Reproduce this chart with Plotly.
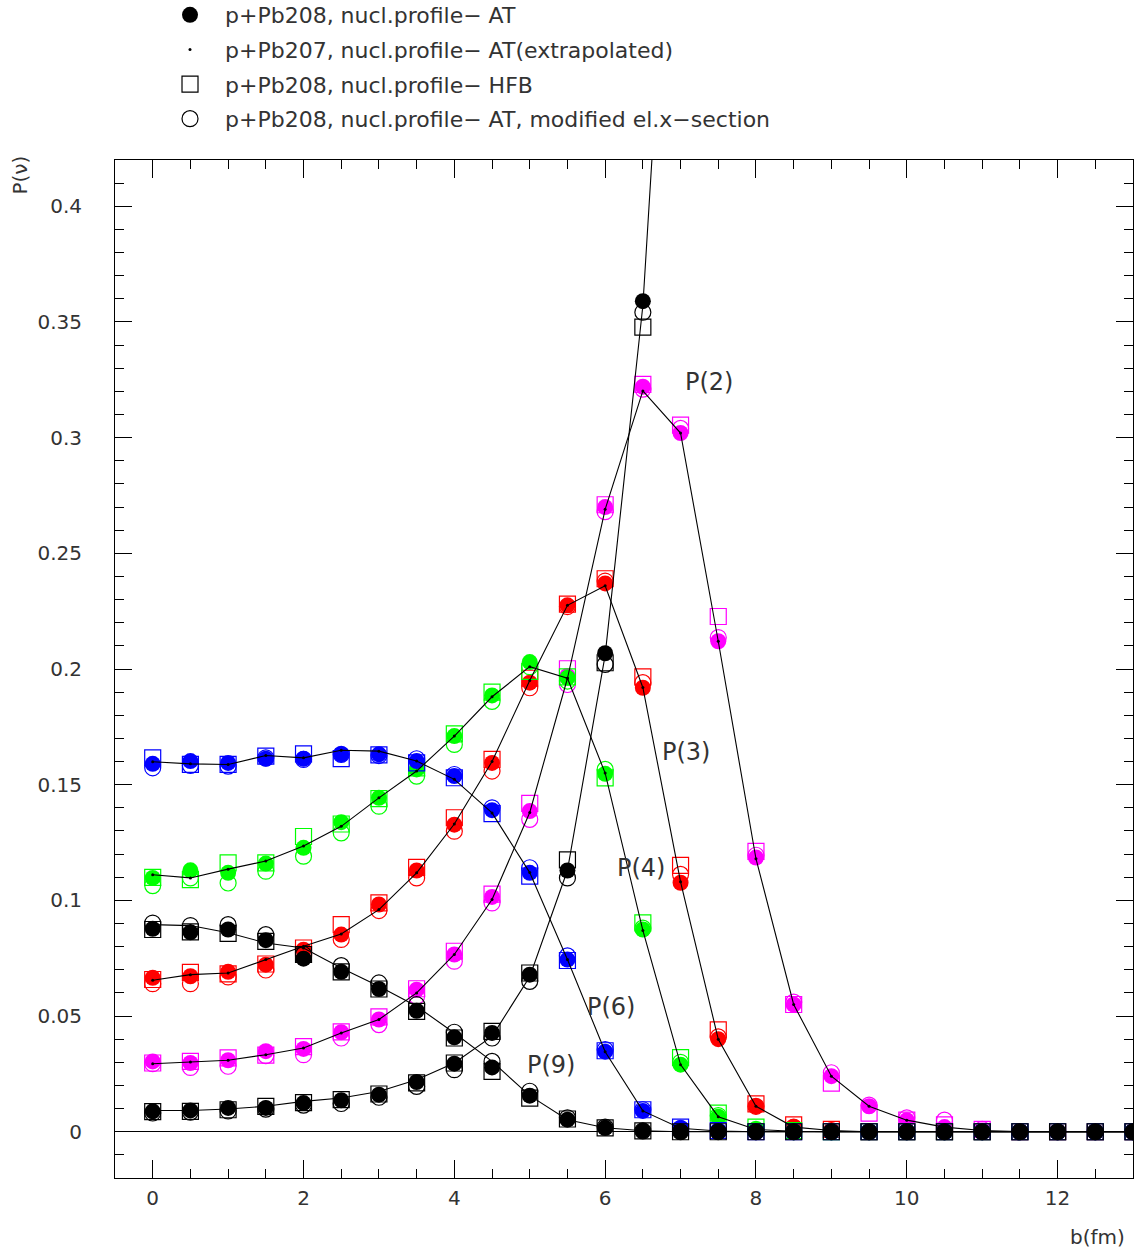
import plotly.graph_objects as go

# impact parameter grid (fm)
b = [0, 0.5, 1, 1.5, 2, 2.5, 3, 3.5, 4, 4.5, 5, 5.5, 6, 6.5, 7, 7.5, 8, 8.5,
     9, 9.5, 10, 10.5, 11, 11.5, 12, 12.5, 13]

# P(2) magenta
p2_at = [0.0304, 0.0297, 0.0309, 0.0348, 0.0358, 0.0430, 0.0485, 0.0614, 0.0766, 0.1015, 0.1386, 0.197, 0.270, 0.322,
         0.302, 0.212, 0.1185, 0.055, 0.024, 0.011, 0.005, 0.002, 0.0005, 0, 0, 0, 0]
p2_pb207 = [0.0294, 0.0301, 0.0309, 0.0333, 0.0362, 0.0427, 0.0485, 0.0600, 0.0766, 0.1004, 0.138, 0.196, 0.269, 0.3202,
            0.302, 0.212, 0.118, 0.055, 0.024, 0.011, 0.005, 0.002, 0.0005, 0, 0, 0, 0]
p2_hfb = [0.0297, 0.0304, 0.0319, 0.0331, 0.0368, 0.0432, 0.0496, 0.0618, 0.0780, 0.1027, 0.1419, 0.2001, 0.271, 0.323,
          0.3054, 0.2227, 0.1212, 0.055, 0.021, 0.008, 0.005, 0.003, 0.001, 0, 0, 0, 0]
p2_mod = [0.0294, 0.0278, 0.0283, 0.0329, 0.0333, 0.0405, 0.0463, 0.0586, 0.0737, 0.0989, 0.1350, 0.1933, 0.268, 0.321,
          0.304, 0.2136, 0.1195, 0.056, 0.0255, 0.0115, 0.006, 0.005, 0.001, 0, 0, 0, 0]

# P(3) red
p3_at = [0.0665, 0.0672, 0.0691, 0.0722, 0.0787, 0.0852, 0.0982, 0.1129, 0.1327, 0.1594, 0.1941, 0.2275, 0.237, 0.1919,
         0.1076, 0.040, 0.011, 0.002, 0.0005, 0, 0, 0, 0, 0, 0, 0, 0]
p3_pb207 = [0.0655, 0.0679, 0.0686, 0.0744, 0.0802, 0.0855, 0.0960, 0.1119, 0.1330, 0.160, 0.195, 0.2275, 0.236, 0.192,
            0.108, 0.040, 0.011, 0.002, 0.0005, 0, 0, 0, 0, 0, 0, 0, 0]
p3_hfb = [0.0658, 0.0689, 0.0682, 0.0725, 0.0794, 0.0895, 0.0989, 0.1143, 0.1357, 0.1609, 0.196, 0.228, 0.239, 0.1966,
          0.1151, 0.044, 0.012, 0.003, 0.001, 0, 0, 0, 0, 0, 0, 0, 0]
p3_mod = [0.0640, 0.0640, 0.0669, 0.0699, 0.0773, 0.0831, 0.0956, 0.1097, 0.1299, 0.1559, 0.1919, 0.227, 0.238, 0.1941,
          0.1112, 0.041, 0.011, 0.002, 0.0005, 0, 0, 0, 0, 0, 0, 0, 0]

# P(4) green
p4_at = [0.1097, 0.1130, 0.1119, 0.1159, 0.1227, 0.1338, 0.1443, 0.1566, 0.1710, 0.1886, 0.2030, 0.1962, 0.1547, 0.0874,
         0.029, 0.0065, 0.001, 0.0002, 0, 0, 0, 0, 0, 0, 0, 0, 0]
p4_pb207 = [0.1111, 0.1097, 0.1135, 0.1170, 0.1235, 0.1320, 0.1443, 0.1559, 0.1710, 0.188, 0.201, 0.196, 0.155, 0.087,
            0.029, 0.0065, 0.001, 0.0002, 0, 0, 0, 0, 0, 0, 0, 0, 0]
p4_hfb = [0.1099, 0.1090, 0.1162, 0.1162, 0.1276, 0.1330, 0.1440, 0.1573, 0.1720, 0.190, 0.199, 0.1966, 0.1529, 0.0903,
          0.032, 0.008, 0.002, 0.0005, 0, 0, 0, 0, 0, 0, 0, 0, 0]
p4_mod = [0.1064, 0.1097, 0.1075, 0.1126, 0.1191, 0.1292, 0.1407, 0.1537, 0.1674, 0.186, 0.201, 0.1948, 0.1566, 0.088,
          0.030, 0.007, 0.001, 0, 0, 0, 0, 0, 0, 0, 0, 0, 0]

# P(6) blue
p6_at = [0.1590, 0.1602, 0.1594, 0.1612, 0.1612, 0.1631, 0.1631, 0.1602, 0.1537, 0.1390, 0.1119, 0.0744, 0.0346, 0.009,
         0.0015, 0.0003, 0, 0, 0, 0, 0, 0, 0, 0, 0, 0, 0]
p6_pb207 = [0.1599, 0.1590, 0.1587, 0.1626, 0.1616, 0.1649, 0.1645, 0.1602, 0.1523, 0.1378, 0.112, 0.0744, 0.0346, 0.009,
            0.0015, 0.0003, 0, 0, 0, 0, 0, 0, 0, 0, 0, 0, 0]
p6_hfb = [0.1616, 0.1588, 0.1588, 0.1623, 0.1633, 0.1613, 0.1629, 0.1594, 0.1530, 0.1375, 0.1105, 0.074, 0.035, 0.0095,
          0.002, 0.0005, 0, 0, 0, 0, 0, 0, 0, 0, 0, 0, 0]
p6_mod = [0.1573, 0.1583, 0.1580, 0.1616, 0.1609, 0.1631, 0.1626, 0.1612, 0.1544, 0.1400, 0.1141, 0.076, 0.0355, 0.0095,
          0.0015, 0.0003, 0, 0, 0, 0, 0, 0, 0, 0, 0, 0, 0]

# P(9) black
p9_at = [0.0877, 0.0862, 0.0874, 0.0828, 0.0748, 0.0691, 0.0617, 0.0523, 0.0408, 0.0278, 0.0156, 0.0052, 0.0017, 0.0004,
         0, 0, 0, 0, 0, 0, 0, 0, 0, 0, 0, 0, 0]
p9_pb207 = [0.0895, 0.0891, 0.0860, 0.0816, 0.0794, 0.0708, 0.0629, 0.0542, 0.0427, 0.0304, 0.0156, 0.0052, 0.0017, 0.0004,
            0, 0, 0, 0, 0, 0, 0, 0, 0, 0, 0, 0, 0]
p9_hfb = [0.0874, 0.0864, 0.0857, 0.0823, 0.0766, 0.0691, 0.0617, 0.0520, 0.0405, 0.0261, 0.0145, 0.0055, 0.0017, 0.0004,
          0, 0, 0, 0, 0, 0, 0, 0, 0, 0, 0, 0, 0]
p9_mod = [0.0902, 0.0891, 0.0895, 0.0852, 0.0766, 0.0718, 0.0643, 0.0549, 0.0430, 0.0304, 0.0175, 0.006, 0.002, 0.0004,
          0, 0, 0, 0, 0, 0, 0, 0, 0, 0, 0, 0, 0]

# P(1) black (leaves the frame above b = 6.5)
p1_at = [0.0088, 0.0092, 0.0103, 0.0103, 0.0124, 0.0136, 0.0160, 0.0215, 0.0294, 0.0427, 0.0679, 0.1129, 0.2068, 0.359, 0.62]
p1_pb207 = [0.0092, 0.0092, 0.0098, 0.0110, 0.0131, 0.0146, 0.0174, 0.0225, 0.0297, 0.0412, 0.067, 0.113, 0.206, 0.357, 0.62]
p1_hfb = [0.0087, 0.0088, 0.0095, 0.0110, 0.0126, 0.0139, 0.0163, 0.0211, 0.0297, 0.0434, 0.0686, 0.1175, 0.2027, 0.3478]
p1_mod = [0.0081, 0.0085, 0.0090, 0.0098, 0.0115, 0.0122, 0.0149, 0.0196, 0.0268, 0.0405, 0.0650, 0.1097, 0.2020, 0.3542]

# curve labels
label_text = ["P(2)", "P(3)", "P(4)", "P(6)", "P(9)"]
label_b = [7.38, 7.07, 6.48, 6.08, 5.28]
label_p = [0.324, 0.164, 0.1142, 0.0541, 0.029]

legend_names = ["p+Pb208, nucl.profile\u2212 AT",
                "p+Pb207, nucl.profile\u2212 AT(extrapolated)",
                "p+Pb208, nucl.profile\u2212 HFB",
                "p+Pb208, nucl.profile\u2212 AT, modified el.x\u2212section"]

series = [
    ("#ff00ff", p2_at, p2_pb207, p2_hfb, p2_mod, False),
    ("#ff0000", p3_at, p3_pb207, p3_hfb, p3_mod, False),
    ("#00ff00", p4_at, p4_pb207, p4_hfb, p4_mod, False),
    ("#0000ff", p6_at, p6_pb207, p6_hfb, p6_mod, False),
    ("#000000", p9_at, p9_pb207, p9_hfb, p9_mod, True),
    ("#000000", p1_at, p1_pb207, p1_hfb, p1_mod, False),
]

FONT = "DejaVu Sans"
TXT = "#333333"
MS = 16

fig = go.Figure()

for col, at, pb, hfb, mod, leg in series:
    fig.add_trace(go.Scatter(
        x=b[:len(hfb)], y=hfb, mode="markers", name=legend_names[2],
        marker=dict(symbol="square-open", size=MS, color=col, line=dict(width=1.2, color=col)),
        showlegend=leg, legendrank=3, legendgroup="g3"))
    fig.add_trace(go.Scatter(
        x=b[:len(mod)], y=mod, mode="markers", name=legend_names[3],
        marker=dict(symbol="circle-open", size=MS, color=col, line=dict(width=1.2, color=col)),
        showlegend=leg, legendrank=4, legendgroup="g4"))
    fig.add_trace(go.Scatter(
        x=b[:len(at)], y=at, mode="markers", name=legend_names[0],
        marker=dict(symbol="circle", size=MS, color=col, line=dict(width=0)),
        showlegend=leg, legendrank=1, legendgroup="g1"))

for col, at, pb, hfb, mod, leg in series:
    fig.add_trace(go.Scatter(
        x=b[:len(pb)], y=pb, mode="lines", line=dict(color="black", width=1.1),
        showlegend=False, hoverinfo="skip"))
    fig.add_trace(go.Scatter(
        x=b[:len(pb)], y=pb, mode="markers", name=legend_names[1],
        marker=dict(symbol="circle", size=3, color="black"),
        showlegend=leg, legendrank=2, legendgroup="g2"))

for t, xb, yp in zip(label_text, label_b, label_p):
    fig.add_annotation(x=xb, y=yp, text=t, showarrow=False,
                       font=dict(family=FONT, size=24, color=TXT))

fig.add_annotation(xref="paper", yref="paper", x=-0.093, y=0.985, text="P(\u03bd)",
                   textangle=-90, showarrow=False, xanchor="center", yanchor="middle",
                   font=dict(family=FONT, size=20, color=TXT))
fig.add_annotation(xref="paper", yref="paper", x=0.994, y=-0.058, text="b(fm)",
                   showarrow=False, xanchor="right", yanchor="middle",
                   font=dict(family=FONT, size=20, color=TXT))

axis_common = dict(showline=True, linecolor="black", linewidth=1, mirror="allticks",
                   ticks="inside", tickcolor="black", showgrid=False,
                   tickfont=dict(family=FONT, size=20, color=TXT))

fig.update_xaxes(range=[-0.5, 13], tick0=0, dtick=2, ticklen=18, tickwidth=1,
                 minor=dict(dtick=0.5, ticklen=9, ticks="inside", tickcolor="black", showgrid=False),
                 zeroline=False, ticklabelstandoff=2, **axis_common)
fig.update_yaxes(range=[-0.02, 0.42], tick0=0, dtick=0.05, ticklen=17, tickwidth=1,
                 minor=dict(dtick=0.01, ticklen=9, ticks="inside", tickcolor="black", showgrid=False),
                 zeroline=True, zerolinecolor="black", zerolinewidth=1,
                 ticklabelstandoff=28, **axis_common)

fig.update_layout(
    width=1137, height=1252,
    margin=dict(l=115, r=4, t=160, b=74, autoexpand=False),
    paper_bgcolor="white", plot_bgcolor="white",
    font=dict(family=FONT, size=20, color=TXT),
    showlegend=True,
    legend=dict(x=0.0393, y=1.163, xanchor="left", yanchor="top",
                bgcolor="rgba(0,0,0,0)", font=dict(family=FONT, size=22, color=TXT),
                tracegroupgap=3, itemsizing="trace", itemwidth=60),
)

fig.write_html("out.html")
